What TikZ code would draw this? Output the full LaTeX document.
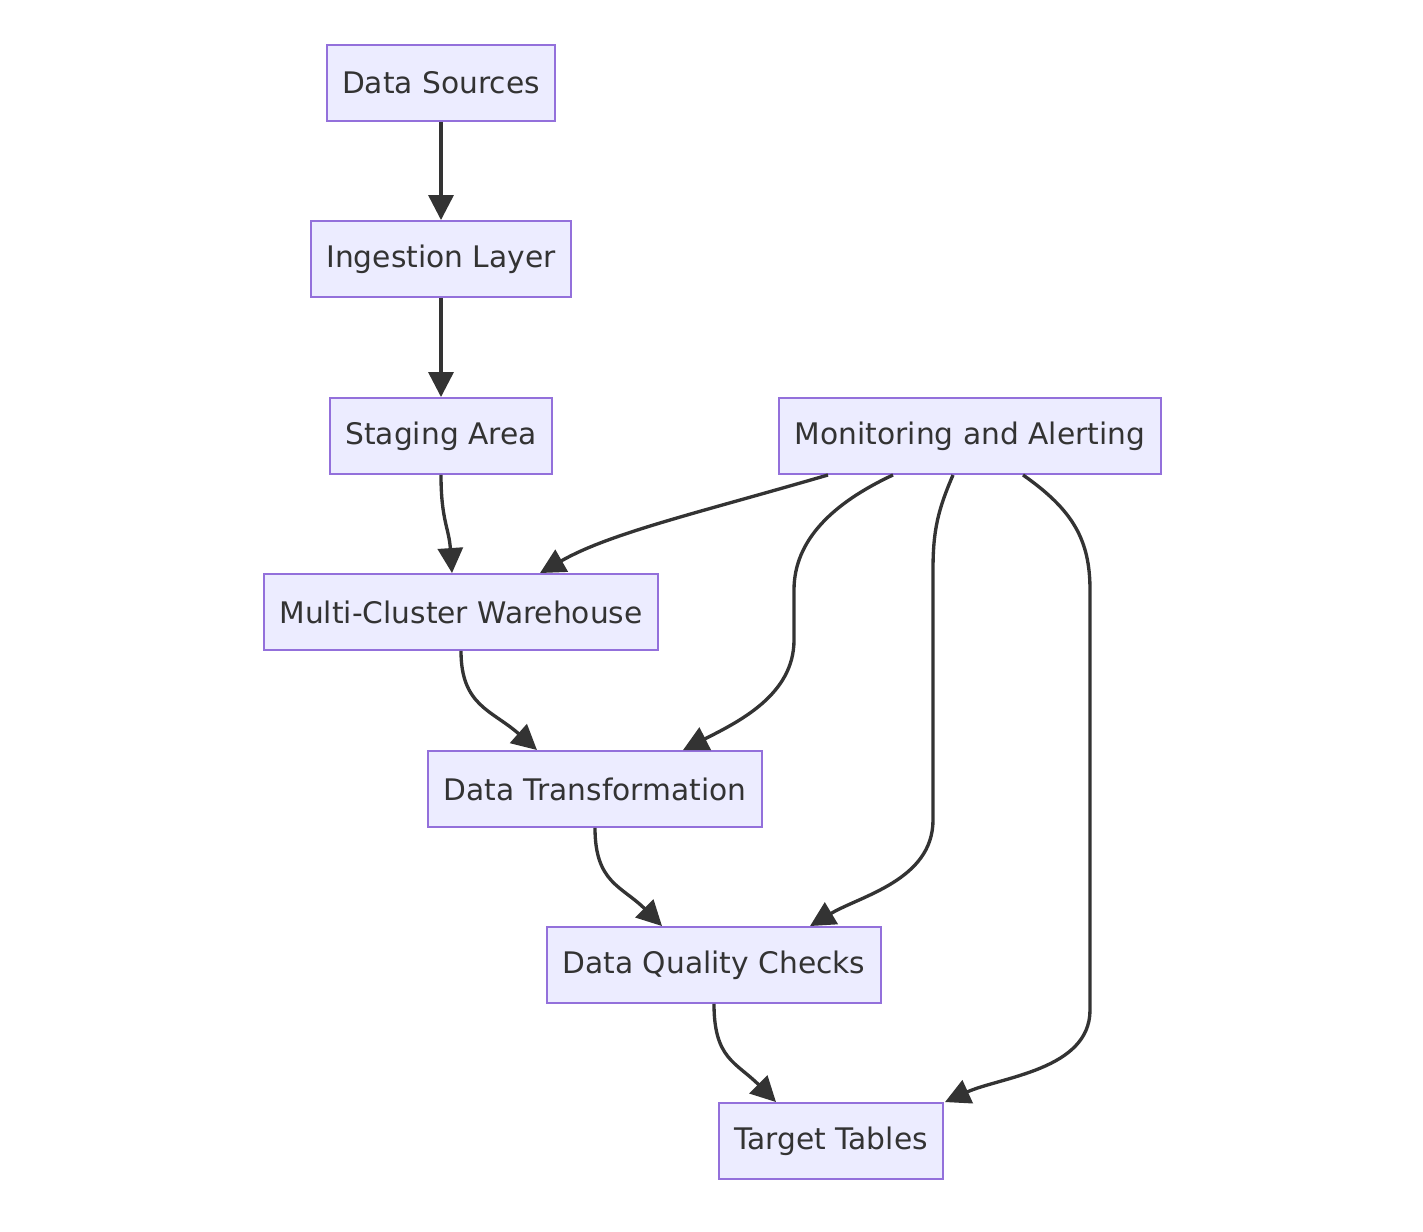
\documentclass[tikz,border=0pt]{standalone}
\usepackage{fontspec}
\setmainfont{DejaVu Sans}
\usetikzlibrary{arrows.meta,calc}

\definecolor{boxfill}{HTML}{ECECFF}
\definecolor{boxline}{HTML}{9370DB}
\definecolor{edgeline}{HTML}{333333}

\begin{document}
\begin{tikzpicture}[x=0.02cm,y=-0.02cm,
  box/.style={draw=boxline,fill=boxfill,line width=1.1pt,inner xsep=0.31cm,
    minimum height=1.52cm,text=edgeline,font=\fontsize{16.9}{20}\selectfont},
  flow/.style={draw=edgeline,line width=1.9pt,
    -{Triangle[length=0.5cm,width=0.5cm]}}]
  \useasboundingbox (0,0) rectangle (1423,1231);
  \node[box] (DS) at (441,83) {Data Sources};
  \node[box] (IL) at (441,259) {Ingestion Layer};
  \node[box] (SA) at (441,436) {Staging Area};
  \node[box] (MA) at (970,436) {Monitoring and Alerting};
  \node[box] (MCW) at (461,612) {Multi-Cluster Warehouse};
  \node[box] (DT) at (595,789) {Data Transformation};
  \node[box] (DQC) at (714,965) {Data Quality Checks};
  \node[box] (TT) at (831,1141) {Target Tables};
  \draw[flow] (DS) -- (IL);
  \draw[flow] (IL) -- (SA);
  \draw[flow] (SA.south) .. controls +(0,45) and +(-3,-45) .. ($(MCW.north)+(-9,0)$);
  \draw[flow] ($(MA.south)+(-142,0)$) .. controls +(-130,38) and +(70,-40) .. ($(MCW.north)+(79,0)$);
  \draw[flow] (MCW.south) .. controls +(0,55) and +(-45,-40) .. ($(DT.north)+(-58,0)$);
  \draw[flow] ($(MA.south)+(-77,0)$) .. controls +(-60,28) and +(0,-50) .. (794,590)
    -- (794,640) .. controls +(0,55) and +(55,-28) .. ($(DT.north)+(88,0)$);
  \draw[flow] ($(MA.south)+(-17,0)$) .. controls +(-15,35) and +(0,-40) .. (933,570)
    -- (933,820) .. controls +(0,60) and +(50,-30) .. ($(DQC.north)+(96,0)$);
  \draw[flow] ($(MA.south)+(53,0)$) .. controls +(50,35) and +(0,-50) .. (1090,590)
    -- (1090,1010) .. controls +(0,60) and +(55,-25) .. ($(TT.north)+(114,0)$);
  \draw[flow] (DT.south) .. controls +(0,55) and +(-40,-40) .. ($(DQC.north)+(-52,0)$);
  \draw[flow] (DQC.south) .. controls +(0,55) and +(-40,-40) .. ($(TT.north)+(-55,0)$);
\end{tikzpicture}
\end{document}
